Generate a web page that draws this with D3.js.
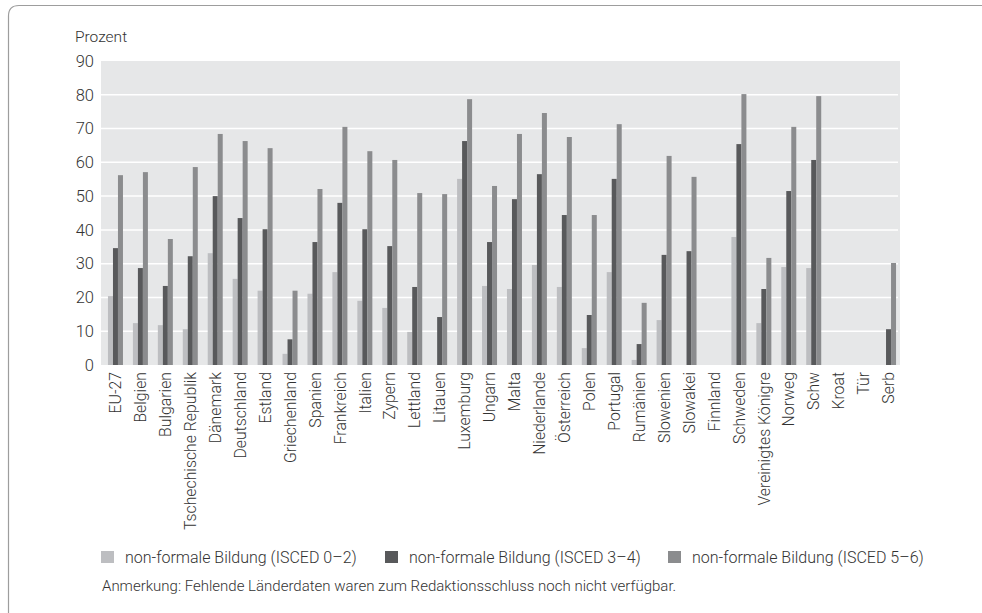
<!DOCTYPE html>
<html><head><meta charset="utf-8">
<script src="https://cdn.jsdelivr.net/npm/d3@7"></script>
<style>
body{margin:0;background:#fff;}
svg{display:block;}
text{font-family:Roboto, "Noto Sans", sans-serif;fill:#333;font-weight:300;}
</style></head>
<body><svg id="c" width="982" height="613"></svg>
<script>
const categories = ["EU-27","Belgien","Bulgarien","Tschechische Republik","Dänemark","Deutschland","Estland","Griechenland","Spanien","Frankreich","Italien","Zypern","Lettland","Litauen","Luxemburg","Ungarn","Malta","Niederlande","Österreich","Polen","Portugal","Rumänien","Slowenien","Slowakei","Finnland","Schweden","Vereinigtes Königre","Norweg","Schw","Kroat","Tür","Serb"];
const isced02 = [20.4,12.4,11.8,10.6,33.1,25.5,22.0,3.3,21.1,27.5,19.0,16.9,9.8,null,55.1,23.4,22.5,29.6,23.1,5.0,27.5,1.5,13.3,null,null,37.9,12.4,29.0,28.7,null,null,null];
const isced34 = [34.6,28.7,23.4,32.2,50.0,43.5,40.2,7.6,36.4,48.0,40.2,35.2,23.1,14.2,66.3,36.4,49.1,56.5,44.4,14.8,55.1,6.2,32.6,33.7,null,65.4,22.5,51.5,60.7,null,null,10.6];
const isced56 = [56.2,57.1,37.3,58.6,68.4,66.3,64.2,22.0,52.1,70.5,63.3,60.7,50.9,50.6,78.7,53.0,68.4,74.6,67.5,44.4,71.3,18.4,61.9,55.7,null,80.2,31.7,70.5,79.6,null,null,30.2];
const seriesNames = ["non-formale Bildung (ISCED 0–2)","non-formale Bildung (ISCED 3–4)","non-formale Bildung (ISCED 5–6)"];
const seriesColors = ["#bdbec1","#58595b","#8b8c8e"];
const yTicks = [0,10,20,30,40,50,60,70,80,90];
const yTitle = "Prozent";
const note = "Anmerkung: Fehlende Länderdaten waren zum Redaktionsschluss noch nicht verfügbar.";

const series = [isced02, isced34, isced56];
const svg = d3.select("#c");

// frame
svg.append("path")
  .attr("d","M8.5,613 L8.5,16 Q8.5,5.5 19,5.5 L982,5.5")
  .attr("fill","none").attr("stroke","#9d9d9d").attr("stroke-width",1.2);

const x = d3.scaleBand().domain(categories).range([103,901]).padding(0);
const x1 = d3.scaleBand().domain([0,1,2]).range([0,15]);
const y = d3.scaleLinear().domain([0,90]).range([365,61]);

svg.append("rect").attr("x",101).attr("y",y(90)).attr("width",799).attr("height",y(0)-y(90)).attr("fill","#e6e7e8");

svg.append("g").selectAll("line").data(yTicks.filter(t=>t>0&&t<90)).join("line")
  .attr("x1",101).attr("x2",898).attr("y1",d=>y(d)).attr("y2",d=>y(d))
  .attr("stroke","#fff").attr("stroke-width",1.5);

const rows = categories.map((c,i)=>({c, vals: series.map(s=>s[i])}));
const off = (x.bandwidth()-15)/2;
const g = svg.append("g").selectAll("g").data(rows).join("g")
  .attr("transform",d=>`translate(${x(d.c)+off},0)`);
g.selectAll("rect").data(d=>d.vals.map((v,k)=>({v,k})).filter(e=>e.v!=null)).join("rect")
  .attr("x",e=>x1(e.k)).attr("width",x1.bandwidth())
  .attr("y",e=>y(e.v)).attr("height",e=>y(0)-y(e.v))
  .attr("fill",e=>seriesColors[e.k]);

// y axis
const ya = svg.append("g").attr("transform","translate(94,0)")
  .call(d3.axisLeft(y).tickValues(yTicks).tickSize(0).tickPadding(0));
ya.select(".domain").remove();
ya.selectAll("text").style("font-size","16.5px").style("font-family","Roboto").style("font-weight","300").attr("fill","#333");

svg.append("text").attr("x",75).attr("y",42).style("font-size","15.5px").text(yTitle);

// x axis
const xa = svg.append("g").attr("transform",`translate(0,${y(0)})`)
  .call(d3.axisBottom(x).tickSize(0).tickPadding(0));
xa.select(".domain").remove();
xa.selectAll("text")
  .attr("transform","rotate(-90)")
  .attr("x",-7).attr("y",0).attr("dy","0.36em")
  .attr("text-anchor","end")
  .style("font-size","15.8px").style("font-family","Roboto").style("font-weight","300").attr("fill","#333");

// legend
const lx = [101,385,668];
const lg = svg.append("g").selectAll("g").data(seriesNames).join("g")
  .attr("transform",(d,i)=>`translate(${lx[i]},551)`);
lg.append("rect").attr("width",13).attr("height",12).attr("fill",(d,i)=>seriesColors[i]);
lg.append("text").attr("x",24).attr("y",11.5).style("font-size","16px").text(d=>d);

svg.append("text").attr("x",102).attr("y",591).style("font-size","15px").text(note);
</script></body></html>
